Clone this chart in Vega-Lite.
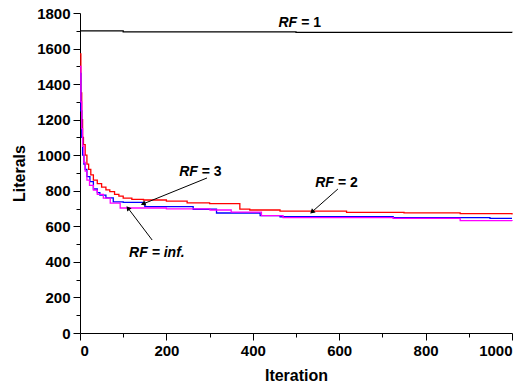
{
  "$schema": "https://vega.github.io/schema/vega-lite/v6.json",
  "autosize": {"type": "none"},
  "padding": {"left": 80, "top": 13, "right": 18, "bottom": 57},
  "width": 432,
  "height": 320,
  "background": "white",
  "config": {
    "view": {"stroke": null},
    "font": "Liberation Sans",
    "axis": {
      "grid": false,
      "domainColor": "black",
      "tickColor": "black",
      "labelColor": "black",
      "titleColor": "black",
      "labelFont": "Liberation Sans",
      "titleFont": "Liberation Sans",
      "labelFontWeight": "bold",
      "titleFontWeight": "bold",
      "labelFontSize": 15,
      "titleFontSize": 16,
      "tickSize": 7,
      "domainWidth": 1,
      "tickWidth": 1,
      "format": "d"
    }
  },
  "datasets": {
    "curves": [
      {"series": "RF=1", "iter": 0, "value": 1700},
      {"series": "RF=1", "iter": 100, "value": 1694},
      {"series": "RF=1", "iter": 500, "value": 1691},
      {"series": "RF=1", "iter": 1000, "value": 1690},

      {"series": "RF=2", "iter": 0, "value": 1570},
      {"series": "RF=2", "iter": 2, "value": 1350},
      {"series": "RF=2", "iter": 4, "value": 1200},
      {"series": "RF=2", "iter": 6, "value": 1100},
      {"series": "RF=2", "iter": 8, "value": 1060},
      {"series": "RF=2", "iter": 12, "value": 1000},
      {"series": "RF=2", "iter": 16, "value": 950},
      {"series": "RF=2", "iter": 20, "value": 920},
      {"series": "RF=2", "iter": 25, "value": 890},
      {"series": "RF=2", "iter": 31, "value": 860},
      {"series": "RF=2", "iter": 40, "value": 840},
      {"series": "RF=2", "iter": 50, "value": 820},
      {"series": "RF=2", "iter": 60, "value": 805},
      {"series": "RF=2", "iter": 69, "value": 795},
      {"series": "RF=2", "iter": 80, "value": 780},
      {"series": "RF=2", "iter": 90, "value": 770},
      {"series": "RF=2", "iter": 100, "value": 759},
      {"series": "RF=2", "iter": 120, "value": 752},
      {"series": "RF=2", "iter": 147, "value": 748},
      {"series": "RF=2", "iter": 200, "value": 742},
      {"series": "RF=2", "iter": 248, "value": 732},
      {"series": "RF=2", "iter": 300, "value": 728},
      {"series": "RF=2", "iter": 370, "value": 697},
      {"series": "RF=2", "iter": 393, "value": 692},
      {"series": "RF=2", "iter": 463, "value": 686},
      {"series": "RF=2", "iter": 617, "value": 679},
      {"series": "RF=2", "iter": 750, "value": 676},
      {"series": "RF=2", "iter": 880, "value": 672},
      {"series": "RF=2", "iter": 1000, "value": 667},

      {"series": "RF=3", "iter": 0, "value": 1460},
      {"series": "RF=3", "iter": 2, "value": 1250},
      {"series": "RF=3", "iter": 4, "value": 1100},
      {"series": "RF=3", "iter": 6, "value": 1000},
      {"series": "RF=3", "iter": 9, "value": 950},
      {"series": "RF=3", "iter": 12, "value": 920},
      {"series": "RF=3", "iter": 16, "value": 880},
      {"series": "RF=3", "iter": 23, "value": 851},
      {"series": "RF=3", "iter": 31, "value": 810},
      {"series": "RF=3", "iter": 40, "value": 790},
      {"series": "RF=3", "iter": 46, "value": 776},
      {"series": "RF=3", "iter": 60, "value": 760},
      {"series": "RF=3", "iter": 77, "value": 738},
      {"series": "RF=3", "iter": 100, "value": 735},
      {"series": "RF=3", "iter": 150, "value": 711},
      {"series": "RF=3", "iter": 262, "value": 696},
      {"series": "RF=3", "iter": 316, "value": 675},
      {"series": "RF=3", "iter": 417, "value": 660},
      {"series": "RF=3", "iter": 463, "value": 654},
      {"series": "RF=3", "iter": 725, "value": 649},
      {"series": "RF=3", "iter": 949, "value": 645},
      {"series": "RF=3", "iter": 1000, "value": 645},

      {"series": "RF=inf", "iter": 0, "value": 1500},
      {"series": "RF=inf", "iter": 2, "value": 1300},
      {"series": "RF=inf", "iter": 4, "value": 1150},
      {"series": "RF=inf", "iter": 6, "value": 1050},
      {"series": "RF=inf", "iter": 9, "value": 960},
      {"series": "RF=inf", "iter": 12, "value": 910},
      {"series": "RF=inf", "iter": 16, "value": 860},
      {"series": "RF=inf", "iter": 22, "value": 830},
      {"series": "RF=inf", "iter": 31, "value": 804},
      {"series": "RF=inf", "iter": 40, "value": 780},
      {"series": "RF=inf", "iter": 54, "value": 759},
      {"series": "RF=inf", "iter": 70, "value": 730},
      {"series": "RF=inf", "iter": 93, "value": 703},
      {"series": "RF=inf", "iter": 200, "value": 698},
      {"series": "RF=inf", "iter": 301, "value": 692},
      {"series": "RF=inf", "iter": 350, "value": 680},
      {"series": "RF=inf", "iter": 420, "value": 660},
      {"series": "RF=inf", "iter": 470, "value": 649},
      {"series": "RF=inf", "iter": 725, "value": 645},
      {"series": "RF=inf", "iter": 880, "value": 632},
      {"series": "RF=inf", "iter": 1000, "value": 630}
    ],
    "labels": [
      {"head": "RF", "tail": "= 1", "x": 505, "y": 1744},
      {"head": "RF", "tail": "= 3", "x": 275, "y": 905},
      {"head": "RF", "tail": "= 2", "x": 590, "y": 844}
    ],
    "infLabel": [
      {"text": "RF = inf.", "x": 178, "y": 450}
    ],
    "arrows": [
      {"name": "RF=3", "x": 294, "y": 872, "x2": 146, "y2": 726},
      {"name": "RF=2", "x": 597, "y": 810, "x2": 537, "y2": 681},
      {"name": "RF=inf", "x": 167, "y": 523, "x2": 111, "y2": 703}
    ]
  },
  "resolve": {"axis": {"x": "independent", "y": "independent"}},
  "layer": [
    {
      "data": {"name": "curves"},
      "mark": {"type": "line", "interpolate": "step-after", "strokeWidth": 1.3},
      "encoding": {
        "x": {"field": "iter", "type": "quantitative",
              "scale": {"domain": [0, 1000], "nice": false},
              "axis": {"values": [0, 200, 400, 600, 800, 1000], "title": "Iteration", "labelPadding": 3, "titlePadding": 9}},
        "y": {"field": "value", "type": "quantitative",
              "scale": {"domain": [0, 1800], "nice": false},
              "axis": {"values": [0, 200, 400, 600, 800, 1000, 1200, 1400, 1600, 1800], "title": "Literals", "labelPadding": 3, "titlePadding": 9}},
        "color": {"field": "series", "type": "nominal",
                  "scale": {"domain": ["RF=1", "RF=2", "RF=3", "RF=inf"], "range": ["#000000", "#ff0000", "#0000ff", "#ff00ff"]},
                  "legend": null}
      }
    },
    {
      "data": {"name": "labels"},
      "mark": {"type": "text", "align": "right", "baseline": "middle", "fontWeight": "bold", "fontStyle": "italic", "fontSize": 14, "dx": -1, "color": "black"},
      "encoding": {
        "x": {"field": "x", "type": "quantitative",
              "axis": {"orient": "bottom", "values": [100, 300, 500, 700, 900], "labels": false, "domain": false, "tickSize": 4, "title": null}},
        "y": {"field": "y", "type": "quantitative",
              "axis": {"orient": "left", "values": [100, 300, 500, 700, 900, 1100, 1300, 1500, 1700], "labels": false, "domain": false, "tickSize": 4, "title": null}},
        "text": {"field": "head"}
      }
    },
    {
      "data": {"name": "labels"},
      "mark": {"type": "text", "align": "left", "baseline": "middle", "fontWeight": "bold", "fontSize": 14, "dx": 3, "color": "black"},
      "encoding": {
        "x": {"field": "x", "type": "quantitative", "axis": null},
        "y": {"field": "y", "type": "quantitative", "axis": null},
        "text": {"field": "tail"}
      }
    },
    {
      "data": {"name": "infLabel"},
      "mark": {"type": "text", "align": "center", "baseline": "middle", "fontWeight": "bold", "fontStyle": "italic", "fontSize": 14, "color": "black"},
      "encoding": {
        "x": {"field": "x", "type": "quantitative", "axis": null},
        "y": {"field": "y", "type": "quantitative", "axis": null},
        "text": {"field": "text"}
      }
    },
    {
      "data": {"name": "arrows"},
      "mark": {"type": "rule", "color": "black", "strokeWidth": 1},
      "encoding": {
        "x": {"field": "x", "type": "quantitative", "axis": null},
        "y": {"field": "y", "type": "quantitative", "axis": null},
        "x2": {"field": "x2"},
        "y2": {"field": "y2"}
      }
    },
    {
      "data": {"name": "arrows"},
      "transform": [{"filter": "datum.name == 'RF=3'"}],
      "mark": {"type": "point", "shape": "triangle-up", "filled": true, "color": "black", "size": 30, "angle": 248, "opacity": 1},
      "encoding": {
        "x": {"field": "x2", "type": "quantitative", "axis": null},
        "y": {"field": "y2", "type": "quantitative", "axis": null}
      }
    },
    {
      "data": {"name": "arrows"},
      "transform": [{"filter": "datum.name == 'RF=2'"}],
      "mark": {"type": "point", "shape": "triangle-up", "filled": true, "color": "black", "size": 30, "angle": 228, "opacity": 1},
      "encoding": {
        "x": {"field": "x2", "type": "quantitative", "axis": null},
        "y": {"field": "y2", "type": "quantitative", "axis": null}
      }
    },
    {
      "data": {"name": "arrows"},
      "transform": [{"filter": "datum.name == 'RF=inf'"}],
      "mark": {"type": "point", "shape": "triangle-up", "filled": true, "color": "black", "size": 30, "angle": 323, "opacity": 1},
      "encoding": {
        "x": {"field": "x2", "type": "quantitative", "axis": null},
        "y": {"field": "y2", "type": "quantitative", "axis": null}
      }
    }
  ]
}
